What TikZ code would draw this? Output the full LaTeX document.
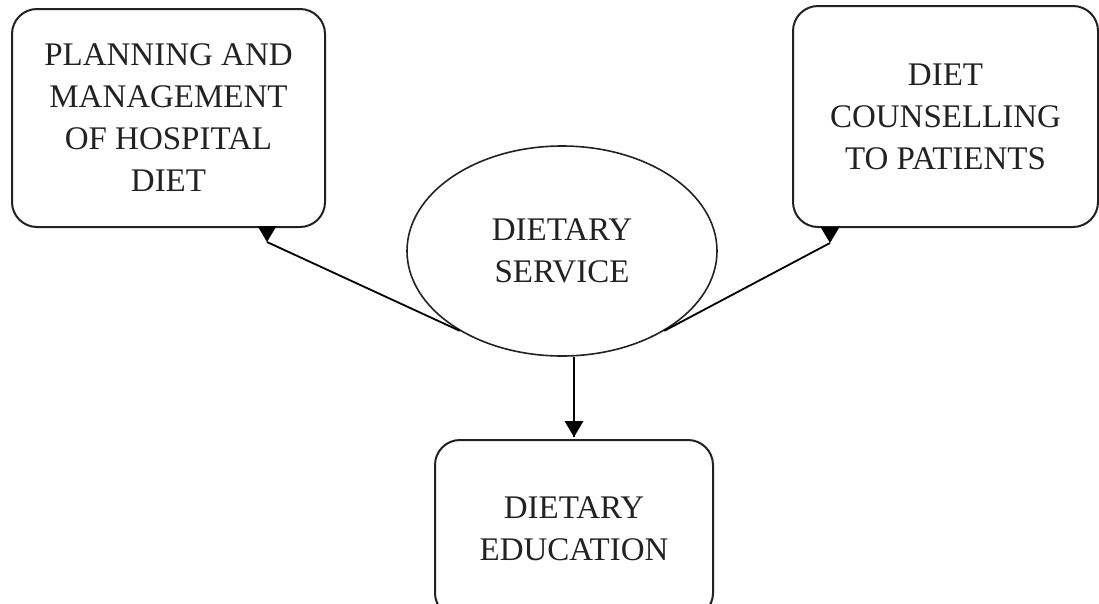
\documentclass[tikz,border=0pt]{standalone}
\usepackage{fontspec}
\setmainfont{Liberation Serif}
\usetikzlibrary{shapes.geometric}

\definecolor{ink}{HTML}{222222}

\tikzset{
  box/.style={draw=ink, line width=2pt, rounded corners=25pt, align=center,
    inner sep=0pt, font=\fontsize{33}{42}\selectfont, text=ink},
  hub/.style={ellipse, draw=ink, line width=1.6pt, align=center, inner sep=0pt,
    minimum width=310pt, minimum height=210pt,
    font=\fontsize{33}{42}\selectfont, text=ink},
  link/.style={draw=black, line width=1.8pt},
  downhead/.pic={\fill[black] (-9.5,-16) -- (9.5,-16) -- (0,0) -- cycle;}
}

\begin{document}
\begin{tikzpicture}[x=1pt, y=-1pt]
  \clip (0,0) rectangle (1099,603);

  % the four blocks
  \node[box, minimum width=313pt, minimum height=218pt] (plan) at (168.5,118)
    {PLANNING AND\\MANAGEMENT\\OF HOSPITAL\\DIET};
  \node[box, minimum width=305pt, minimum height=221pt] (couns) at (945.5,116.5)
    {DIET\\COUNSELLING\\TO PATIENTS};
  \node[box, minimum width=278pt, minimum height=178pt] (edu) at (574,529)
    {DIETARY\\EDUCATION};
  \node[hub] (serv) at (562,251) {DIETARY\\SERVICE};

  % arrow tips just below the target blocks
  \coordinate (tipL) at (267,242);
  \coordinate (tipR) at (830,243);
  \coordinate (tipB) at (574,437);

  % connectors
  \draw[link] (serv.218) -- (tipL);
  \draw[link] (serv.322) -- (tipR);
  \draw[link, line width=2.4pt] (tipB |- serv.south) -- (tipB);

  \pic at (tipL) {downhead};
  \pic at (tipR) {downhead};
  \pic at (tipB) {downhead};
\end{tikzpicture}
\end{document}
